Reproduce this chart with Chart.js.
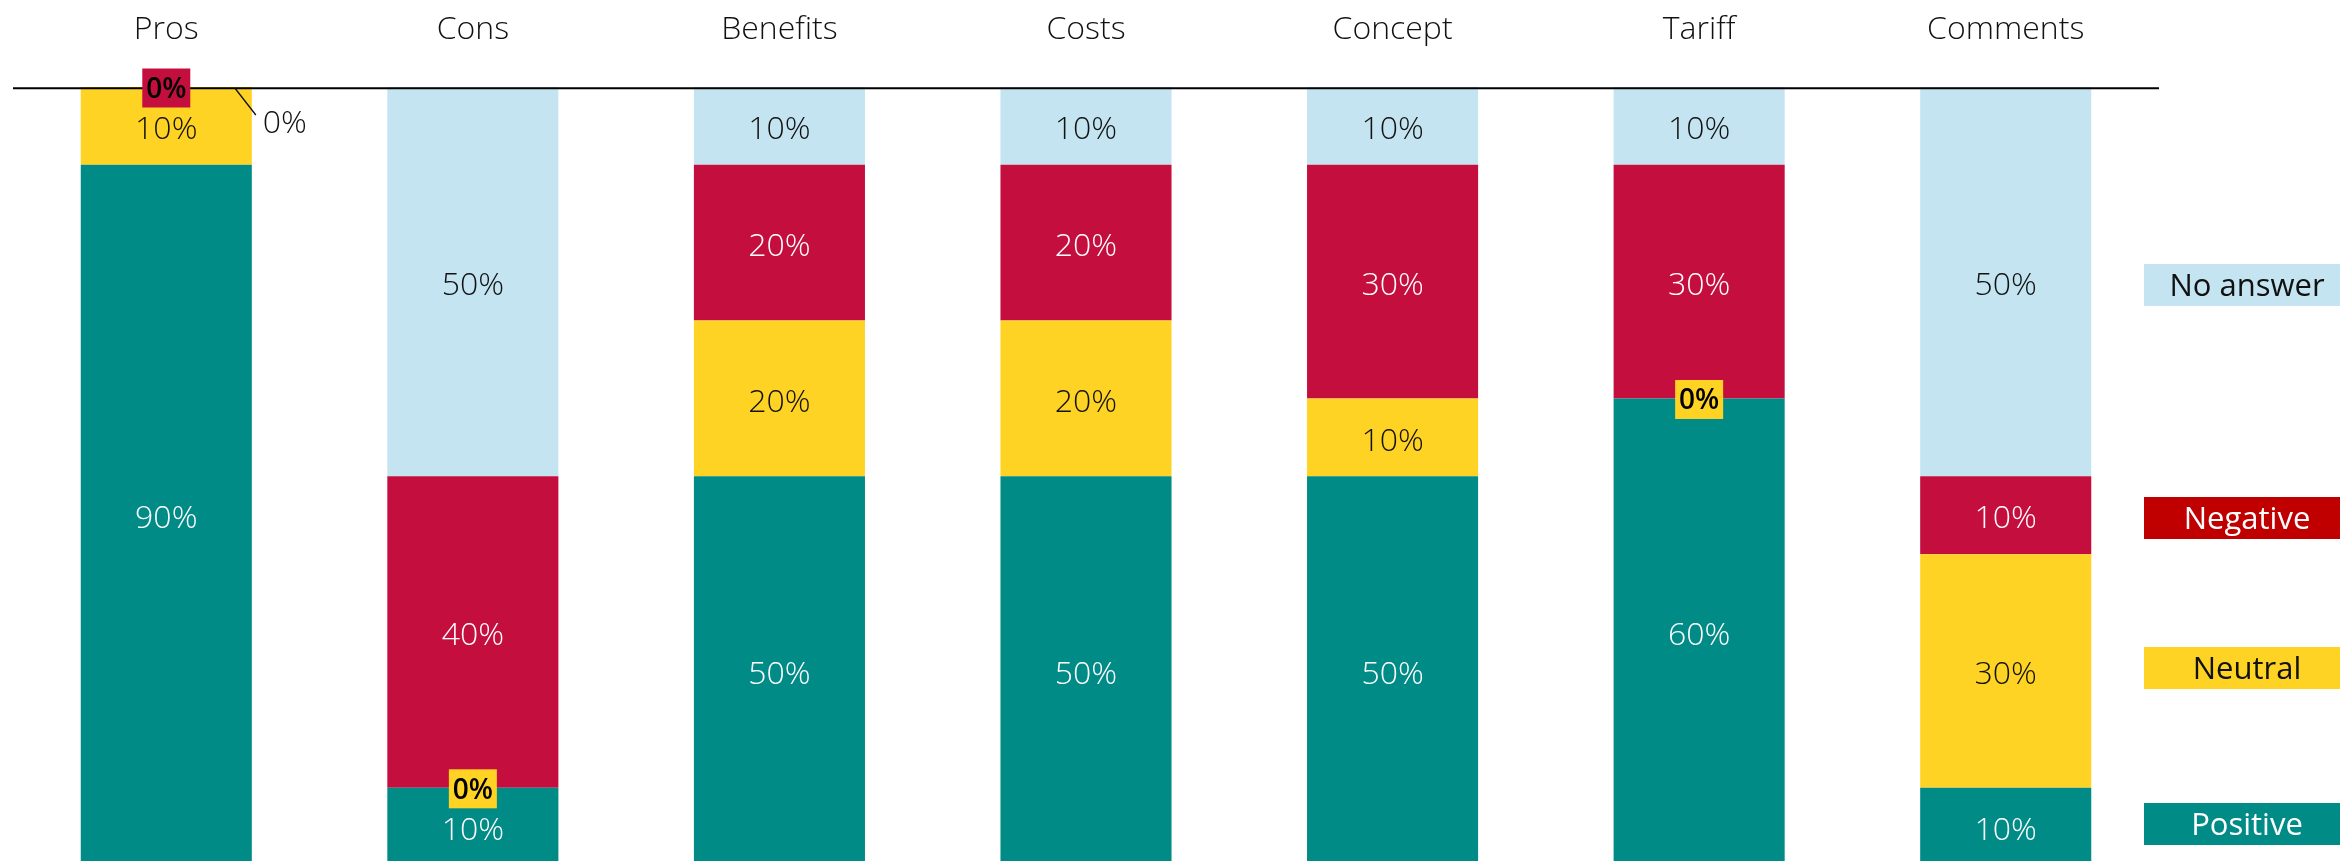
<!DOCTYPE html>
<html>
<head>
<meta charset="utf-8">
<script src="https://cdn.jsdelivr.net/npm/chart.js@4.4.1/dist/chart.umd.min.js"></script>
<style>
  html, body { margin: 0; padding: 0; background: #fff; }
</style>
</head>
<body>
<canvas id="surveyChart" width="2340" height="861"></canvas>
<script>
// data, bottom segment first
const categories = ["Pros", "Cons", "Benefits", "Costs", "Concept", "Tariff", "Comments"];
const positive = [90, 10, 50, 50, 50, 60, 10];
const neutral  = [10, 0, 20, 20, 10, 0, 30];
const negative = [0, 40, 20, 20, 30, 30, 10];
const noAnswer = [0, 50, 10, 10, 10, 10, 50];
const seriesNames = ["Positive", "Neutral", "Negative", "No answer"];

const barColors = ["#008b87", "#ffd324", "#c30e3e", "#c3e4f0"];
const textColors = ["#ffffff", "#111111", "#ffffff", "#111111"];
const legendColors = {"No answer": "#c3e4f0", "Negative": "#c00000", "Neutral": "#ffd324", "Positive": "#008b87"};
const legendText = {"No answer": "#111111", "Negative": "#ffffff", "Neutral": "#111111", "Positive": "#ffffff"};

const FONT = "'Open Sans', 'DejaVu Sans', sans-serif";

const segmentLabels = {
  id: "segmentLabels",
  afterDatasetsDraw(chart) {
    const ctx = chart.ctx;
    const area = chart.chartArea;
    const ys = chart.scales.y;

    ctx.save();
    // black line along the top of the stacks
    const ly = ys.getPixelForValue(100) + 1.3;
    ctx.strokeStyle = "#000";
    ctx.lineWidth = 2;
    ctx.beginPath();
    ctx.moveTo(area.left, ly);
    ctx.lineTo(area.right, ly);
    ctx.stroke();

    ctx.textAlign = "center";
    ctx.textBaseline = "middle";
    ctx.font = "300 32px " + FONT;
    chart.data.datasets.forEach((ds, di) => {
      chart.getDatasetMeta(di).data.forEach((bar, i) => {
        const v = ds.data[i];
        if (v > 0) {
          ctx.fillStyle = textColors[di];
          ctx.fillText(v + "%", bar.x, (bar.y + bar.base) / 2 + 4);
        }
      });
    });

    // zero values
    const last = chart.data.datasets.length - 1;
    chart.data.datasets.forEach((ds, di) => {
      chart.getDatasetMeta(di).data.forEach((bar, i) => {
        if (ds.data[i] !== 0) return;
        if (di === last) {
          const rx = bar.x + bar.width / 2;
          ctx.strokeStyle = "#111";
          ctx.lineWidth = 1.3;
          ctx.beginPath();
          ctx.moveTo(rx - 17, bar.y + 1);
          ctx.lineTo(rx + 4, bar.y + 28);
          ctx.stroke();
          ctx.textAlign = "left";
          ctx.font = "300 32px " + FONT;
          ctx.fillStyle = "#111";
          ctx.fillText("0%", rx + 11, bar.y + 37);
          ctx.textAlign = "center";
        } else {
          ctx.fillStyle = barColors[di];
          ctx.fillRect(bar.x - 24, bar.y - 18.5, 48, 39);
          ctx.font = "600 28px " + FONT;
          ctx.fillStyle = "#000";
          ctx.fillText("0%", bar.x, bar.y + 3);
        }
      });
    });
    ctx.restore();
  },
  afterDraw(chart) {
    const ctx = chart.ctx;
    const items = [["No answer", 285], ["Negative", 518], ["Neutral", 668], ["Positive", 824]];
    ctx.save();
    ctx.font = "400 31px " + FONT;
    ctx.textAlign = "center";
    ctx.textBaseline = "middle";
    items.forEach(([name, cy]) => {
      ctx.fillStyle = legendColors[name];
      ctx.fillRect(2144, cy - 21, chart.width - 2144, 42);
      ctx.fillStyle = legendText[name];
      ctx.fillText(name, 2247, cy + 2);
    });
    ctx.restore();
  }
};

const series = [positive, neutral, negative, noAnswer];

new Chart(document.getElementById("surveyChart").getContext("2d"), {
  type: "bar",
  data: {
    labels: categories,
    datasets: series.map((d, i) => ({
      label: seriesNames[i],
      data: d,
      backgroundColor: barColors[i],
      borderWidth: 0,
      barPercentage: 0.558,
      categoryPercentage: 1
    }))
  },
  options: {
    responsive: false,
    animation: false,
    layout: { padding: { left: 13, right: 181, top: 8, bottom: 0 } },
    plugins: {
      legend: { display: false },
      tooltip: { enabled: false }
    },
    scales: {
      x: {
        stacked: true,
        position: "top",
        grid: { display: false, drawTicks: false },
        border: { display: false },
        afterFit: (scale) => { scale.height = 79; },
        ticks: {
          padding: 38,
          color: "#111",
          font: { family: FONT, size: 32, weight: "300" }
        }
      },
      y: {
        stacked: true,
        display: false,
        min: 0.6,
        max: 100
      }
    }
  },
  plugins: [segmentLabels]
});
</script>
</body>
</html>
